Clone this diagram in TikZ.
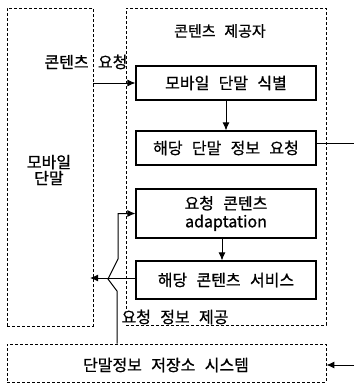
\documentclass[tikz,border=0pt]{standalone}
\usepackage{fontspec}
\setmainfont[WordSpace=2.6, FakeBold=0.8]{Noto Sans CJK KR}
\usetikzlibrary{arrows.meta}
\tikzset{
  dbox/.style={draw, line width=0.8pt, dash pattern=on 3pt off 2pt, inner sep=0pt},
  sbox/.style={draw, line width=1.1pt, fill=white, inner sep=0pt, align=center, font=\fontsize{16}{18}\selectfont},
  lbl/.style={inner sep=1pt, font=\fontsize{16}{16}\selectfont, align=center},
  arr/.style={line width=1pt, -{Latex[length=8pt,width=7pt]}},
  ln/.style={line width=1pt}
}
\begin{document}
\begin{tikzpicture}[x=1pt,y=-1pt]
\useasboundingbox[fill=white] (0,0) rectangle (354,383);
% containers
\node[dbox, minimum width=86, minimum height=318] (lbox) at (50,167) {};
\node[dbox, minimum width=200, minimum height=317] (rbox) at (226,166.5) {};
\node[dbox, minimum width=319, minimum height=38] (bbox) at (166.5,363) {};
% inner boxes
\node[sbox, minimum width=180, minimum height=34] (b1) at (226,83) {모바일 단말 식별};
\node[sbox, minimum width=180, minimum height=34] (b2) at (226,148) {해당 단말 정보 요청};
\node[sbox, minimum width=180, minimum height=49] (b3) at (226,213.5) {요청 콘텐츠\\adaptation};
\node[sbox, minimum width=180, minimum height=38] (b4) at (226,280) {해당 콘텐츠 서비스};
% labels
\node[lbl, font=\fontsize{15}{16}\selectfont] (t1) at (220,31) {콘텐츠 제공자};
\node[lbl] (t2) at (49,170) {모바일\\단말};
\node[lbl] (t3) at (86,62) {콘텐츠 요청};
\node[lbl, fill=white] (t4) at (175,317) {요청 정보 제공};
\node[lbl] (t5) at (166,365) {단말정보 저장소 시스템};
% coordinates
\coordinate (c1) at (93,83);
\coordinate (e1) at (354,143);
\coordinate (c2) at (90,278);
\coordinate (e2) at (354,365);
\coordinate (j1) at (117,291);
\coordinate (j2) at (108,279);
\coordinate (j3) at (118,259);
\coordinate (j4) at (118,213.5);
% connectors
\draw[arr] (c1) -- (b1.west);
\draw[arr] (b1) -- (b2);
\draw[ln] ([yshift=5pt]b2.east) -- (e1);
\draw[arr] ([xshift=-4pt]b3.south) -- ([xshift=-4pt]b4.north);
\draw[arr] ([yshift=2pt]b4.west) -- (c2);
\draw[arr] (j1 |- bbox.north) -- (j1) -- (j2) -- (j3) -- (j4) -- (b3.west);
\draw[arr] (e2) -- (bbox.east |- e2);
\end{tikzpicture}
\end{document}
